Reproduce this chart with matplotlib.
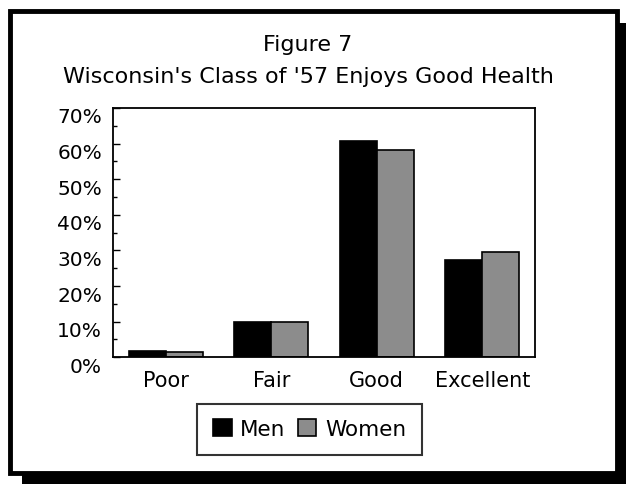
import numpy as np
import matplotlib
matplotlib.use("Agg")
import matplotlib.pyplot as plt
from matplotlib.patches import Rectangle
from matplotlib.ticker import MultipleLocator, PercentFormatter
from matplotlib.transforms import ScaledTranslation

# data
categories = ["Poor", "Fair", "Good", "Excellent"]
men = [1.7, 10.0, 60.6, 27.4]
women = [1.4, 9.9, 58.2, 29.5]
title_lines = ["Figure 7", "Wisconsin's Class of '57 Enjoys Good Health"]

W, H = 626, 485
fig = plt.figure(figsize=(W / 100, H / 100), dpi=100)
plt.rcParams["font.family"] = ["DejaVu Sans"]
fs = 14.5


def px(x0, y0, x1, y1):
    # pixel box (top-left origin) -> figure fraction rect
    return [x0 / W, 1 - y1 / H, (x1 - x0) / W, (y1 - y0) / H]


# drop shadow and frame
fig.patches.append(Rectangle((22 / W, -0.05), 1.0, 1 - 24 / H + 0.05,
                             transform=fig.transFigure, facecolor="black",
                             edgecolor="none", zorder=0))
fig.patches.append(Rectangle((10 / W, 1 - 474 / H), 607 / W, 462 / H,
                             transform=fig.transFigure, facecolor="white",
                             edgecolor="black", linewidth=3.5, zorder=1))

ax = fig.add_axes(px(113, 109, 535, 358.3))
ax.set_zorder(2)

x = np.arange(len(categories))
w = 0.35
ax.bar(x - w / 2, men, w, color="black", edgecolor="black", linewidth=1.2, label="Men")
ax.bar(x + w / 2, women, w, color="#8c8c8c", edgecolor="black", linewidth=1.2, label="Women")

ax.set_xlim(-0.5, len(categories) - 0.5)
ax.set_ylim(0, 70)
ax.set_xticks(x)
ax.set_xticklabels(categories, fontsize=15)
ax.yaxis.set_major_locator(MultipleLocator(10))
ax.yaxis.set_minor_locator(MultipleLocator(5))
ax.yaxis.set_major_formatter(PercentFormatter(decimals=0))
ax.tick_params(axis="x", length=0, pad=9)
ax.tick_params(axis="y", which="major", direction="in", length=5, width=1, labelsize=fs, pad=8)
ax.tick_params(axis="y", which="minor", direction="in", length=3, width=1)
for s in ax.spines.values():
    s.set_linewidth(1.3)

# labels sit a little below their ticks in the original
off = ScaledTranslation(0, -5 / 72, fig.dpi_scale_trans)
for lab in ax.get_yticklabels():
    lab.set_transform(lab.get_transform() + off)

fig.text(308 / W, 1 - 45 / H, title_lines[0], ha="center", va="center", fontsize=16, zorder=3)
fig.text(308 / W, 1 - 77 / H, title_lines[1], ha="center", va="center", fontsize=16, zorder=3)

leg = fig.legend(loc="center", bbox_to_anchor=(309.5 / W, 1 - 430 / H), ncol=2,
                 fontsize=15.5, frameon=True, fancybox=False, edgecolor="black",
                 handlelength=0.88, handleheight=0.8, handletextpad=0.4,
                 columnspacing=0.55, borderpad=0.72, borderaxespad=0)
leg.get_frame().set_linewidth(1.5)
leg.set_zorder(3)

fig.savefig("out.png", dpi=100)
